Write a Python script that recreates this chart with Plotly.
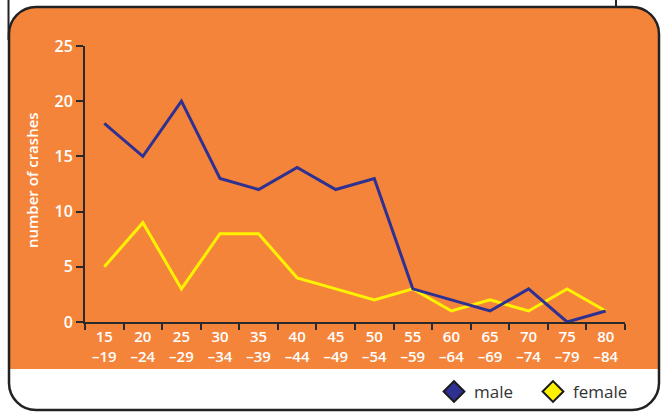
import plotly.graph_objects as go

# Crash counts by age band
age_bands = ["15<br>–19", "20<br>–24", "25<br>–29", "30<br>–34", "35<br>–39",
             "40<br>–44", "45<br>–49", "50<br>–54", "55<br>–59", "60<br>–64",
             "65<br>–69", "70<br>–74", "75<br>–79", "80<br>–84"]
male = [18, 15, 20, 13, 12, 14, 12, 13, 3, 2, 1, 3, 0, 1]
female = [5, 9, 3, 8, 8, 4, 3, 2, 3, 1, 2, 1, 3, 1]
y_ticks = [0, 5, 10, 15, 20, 25]

COLORS = {
    'orange': '#F5843B',
    'male': '#2E3192',
    'female': '#FFF200',
    'axis': '#2a2a2a',
    'text': '#ffffff',
    'legend': '#333333',
}

W, H = 663, 414
# plot area in pixels
L, R, T, B = 85, 625, 46, 322


def px(x):
    return (x - L) / (R - L)


def py(y):
    return (B - y) / (B - T)


def rounded_path(x0, y0, x1, y1, r, flat_bottom=False):
    k = 0.55 * r
    pts = [f"M {px(x0)},{py(y1 if flat_bottom else y1 - r)}",
           f"L {px(x0)},{py(y0 + r)}",
           f"C {px(x0)},{py(y0 + r - k)} {px(x0 + r - k)},{py(y0)} {px(x0 + r)},{py(y0)}",
           f"L {px(x1 - r)},{py(y0)}",
           f"C {px(x1 - r + k)},{py(y0)} {px(x1)},{py(y0 + r - k)} {px(x1)},{py(y0 + r)}"]
    if flat_bottom:
        pts.append(f"L {px(x1)},{py(y1)} Z")
    else:
        pts += [f"L {px(x1)},{py(y1 - r)}",
                f"C {px(x1)},{py(y1 - r + k)} {px(x1 - r + k)},{py(y1)} {px(x1 - r)},{py(y1)}",
                f"L {px(x0 + r)},{py(y1)}",
                f"C {px(x0 + r - k)},{py(y1)} {px(x0)},{py(y1 - r + k)} {px(x0)},{py(y1 - r)} Z"]
    return " ".join(pts)


fig = go.Figure()

fig.add_trace(go.Scatter(x=age_bands, y=female, mode='lines',
                         line=dict(color=COLORS['female'], width=3),
                         showlegend=False))
fig.add_trace(go.Scatter(x=age_bands, y=male, mode='lines',
                         line=dict(color=COLORS['male'], width=3),
                         showlegend=False))

# legend entries (diamonds)
for name, col in [("male", COLORS['male']), ("female", COLORS['female'])]:
    fig.add_trace(go.Scatter(x=[None], y=[None], mode='markers', name=name,
                             marker=dict(symbol='diamond', size=16, color=col,
                                         line=dict(color='#1a1a1a', width=2))))

shapes = [
    # orange panel
    dict(type='path', xref='paper', yref='paper', layer='below',
         path=rounded_path(9, 7, 659, 369, 27, flat_bottom=True),
         fillcolor=COLORS['orange'], line=dict(width=0)),
    # frame
    dict(type='path', xref='paper', yref='paper', layer='below',
         path=rounded_path(9, 7, 659, 410, 27),
         fillcolor='rgba(0,0,0,0)', line=dict(color='#222222', width=2.5)),
    # lines from the box above
    dict(type='line', xref='paper', yref='paper', layer='below',
         x0=px(8.5), x1=px(8.5), y0=py(0), y1=py(40),
         line=dict(color='#222222', width=2)),
    dict(type='line', xref='paper', yref='paper', layer='below',
         x0=px(616), x1=px(616), y0=py(0), y1=py(8),
         line=dict(color='#222222', width=2)),
]

fig.update_layout(
    width=W, height=H,
    margin=dict(l=L, r=W - R, t=T, b=H - B, autoexpand=False),
    paper_bgcolor='white',
    plot_bgcolor='rgba(0,0,0,0)',
    shapes=shapes,
    font=dict(family='Open Sans', color=COLORS['text'], size=15),
    showlegend=True,
    legend=dict(orientation='h', xref='container', yref='container',
                x=434 / W, y=(H - 392) / H, xanchor='left', yanchor='middle',
                entrywidth=54,
                bgcolor='rgba(0,0,0,0)', font=dict(color=COLORS['legend'], size=17),
                itemclick=False),
    annotations=[dict(text='number of crashes', xref='paper', yref='paper',
                      x=px(32), y=py(180), textangle=-90, showarrow=False,
                      xanchor='center', yanchor='middle',
                      font=dict(size=15, color=COLORS['text'], weight=600))],
)

fig.update_xaxes(type='category', range=[-0.5, 13.5], tickson='boundaries',
                 showgrid=False, zeroline=False, showline=True,
                 linecolor=COLORS['axis'], linewidth=2,
                 ticks='outside', ticklen=6, tickwidth=2, tickcolor=COLORS['axis'],
                 tickfont=dict(size=15, color=COLORS['text'], weight=600))
fig.update_yaxes(range=[0, 25], tickvals=y_ticks, showgrid=False, zeroline=False,
                 showline=True, linecolor=COLORS['axis'], linewidth=2,
                 ticks='outside', ticklen=7, tickwidth=2, tickcolor=COLORS['axis'],
                 tickfont=dict(size=16, color=COLORS['text'], weight=600))

page_css = ("document.documentElement.style.margin='0';"
            "document.documentElement.style.overflow='hidden';"
            "document.body.style.margin='0';"
            "document.body.style.overflow='hidden';")
fig.write_html("out.html", config={'displayModeBar': False}, post_script=page_css)
